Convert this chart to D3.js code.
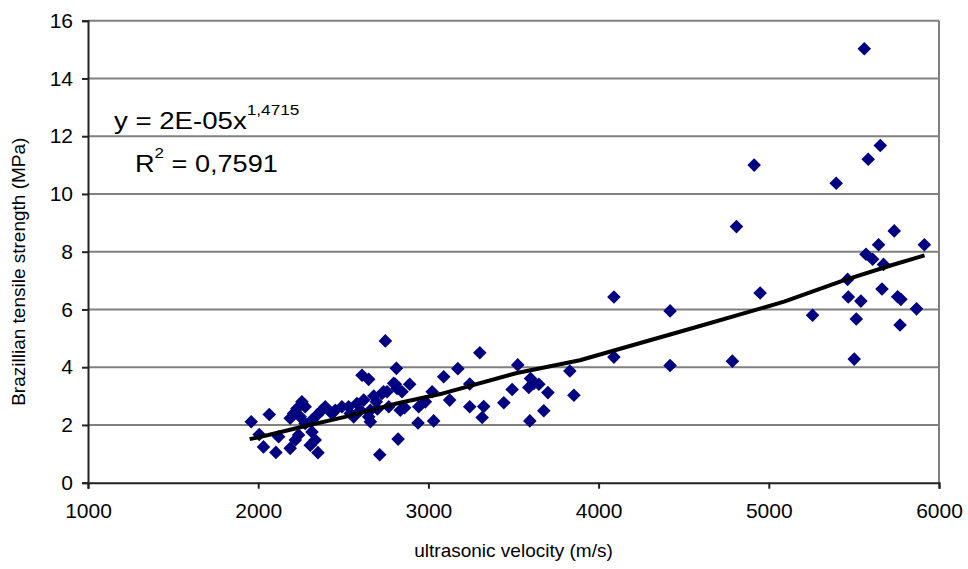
<!DOCTYPE html>
<html>
<head>
<meta charset="utf-8">
<script src="https://cdn.jsdelivr.net/npm/d3@7"></script>
<style>
  body { margin: 0; background: #fff; }
  text { font-family: Arial, "Liberation Sans", sans-serif; }
</style>
</head>
<body>
<div id="chart"></div>
<script>
// measured points (ultrasonic velocity m/s, Brazilian tensile strength MPa)
var velocity = [
  1959, 2065, 2006, 2031, 2104, 2120, 2188, 2208, 2228, 2257, 2276, 2247, 2276, 2237, 2218, 2188,
  2316, 2335, 2306, 2351, 2345, 2374, 2394, 2316, 2433, 2453, 2492,
  2531, 2541, 2561, 2580, 2600, 2620, 2659, 2679, 2694, 2610, 2649, 2737, 2767, 2806, 2812, 2835,
  2845, 2890, 2943, 2982, 2659, 2822, 2714, 2747, 2727, 2757, 2796, 2816, 2649, 2700, 2860,
  2939, 3031, 3022, 3090, 3125, 3173, 3243, 3243, 3302, 3325, 3316, 3443, 3492, 3525, 3590, 3600,
  3620, 3649, 3596, 3678, 3702, 3831, 3855, 4090, 4090, 4420, 4420, 4786, 4810, 4914, 4949,
  5257, 5396, 5463, 5467, 5502, 5514, 5541, 5561, 5571, 5584, 5610, 5645, 5655, 5665, 5674,
  5737, 5757, 5771, 5776, 5868, 5914
];
var strength = [
  2.11, 2.36, 1.67, 1.24, 1.05, 1.59, 2.23, 2.40, 2.57, 2.80, 2.63, 2.28, 2.05, 1.65, 1.48, 1.19,
  1.76, 1.48, 1.30, 1.04, 2.34, 2.51, 2.63, 2.17, 2.40, 2.51, 2.63,
  2.63, 2.40, 2.28, 2.74, 2.51, 2.86, 2.51, 3.00, 2.80, 3.72, 3.58, 3.15, 2.63, 3.41, 3.96, 2.51,
  3.15, 3.41, 2.63, 2.80, 2.11, 1.51, 0.97, 4.91, 3.09, 3.15, 3.44, 3.26, 2.28, 2.55, 2.60,
  2.07, 2.14, 3.15, 3.67, 2.86, 3.95, 3.42, 2.63, 4.50, 2.64, 2.26, 2.77, 3.23, 4.08, 3.30, 3.61,
  3.44, 3.41, 2.14, 2.49, 3.12, 3.87, 3.03, 4.35, 6.43, 5.95, 4.06, 4.21, 8.87, 11.0, 6.57,
  5.80, 10.37, 7.04, 6.43, 4.28, 5.67, 6.29, 15.03, 7.91, 11.2, 7.74, 8.24, 11.68, 6.71, 7.56,
  8.72, 6.44, 5.46, 6.35, 6.02, 8.24
];

// power trendline as drawn in the picture
var trendX = [1950, 2060, 2260, 2510, 2820, 3070, 3520, 3890, 4580, 5090, 5440, 5720, 5915];
var trendY = [1.51, 1.65, 1.94, 2.28, 2.75, 3.07, 3.80, 4.24, 5.40, 6.27, 7.01, 7.53, 7.87];

var xTicks = [1000, 2000, 3000, 4000, 5000, 6000];
var yTicks = [0, 2, 4, 6, 8, 10, 12, 14, 16];

var eqText = "y = 2E-05x";
var eqExp = "1,4715";
var r2Text = " = 0,7591";

var drawChart = function() {
  var width = 968, height = 569;
  var plotLeft = 88, plotRight = 939, plotTop = 20.7, plotBottom = 482.7;

  var svg = d3.select("#chart").append("svg")
    .attr("width", width)
    .attr("height", height);

  var xScale = d3.scaleLinear().domain([1000, 6000]).range([plotLeft, plotRight]);
  var yScale = d3.scaleLinear().domain([0, 16]).range([plotBottom, plotTop]);

  // gridlines
  svg.append("g")
    .selectAll("line")
    .data(yTicks.filter(function(d) { return d > 0; }))
    .enter().append("line")
    .attr("x1", plotLeft).attr("x2", plotRight)
    .attr("y1", function(d) { return yScale(d); })
    .attr("y2", function(d) { return yScale(d); })
    .attr("stroke", "#808080")
    .attr("stroke-width", 2);

  // right border of plot area
  svg.append("line")
    .attr("x1", plotRight).attr("x2", plotRight)
    .attr("y1", plotTop).attr("y2", plotBottom)
    .attr("stroke", "#808080")
    .attr("stroke-width", 2);

  // axes
  var xAxis = d3.axisBottom(xScale).tickValues(xTicks).tickSize(6).tickPadding(14).tickFormat(d3.format("d"));
  var yAxis = d3.axisLeft(yScale).tickValues(yTicks).tickSize(6).tickPadding(9).tickFormat(d3.format("d"));

  var gx = svg.append("g")
    .attr("transform", "translate(0," + plotBottom + ")")
    .call(xAxis);
  var gy = svg.append("g")
    .attr("transform", "translate(" + plotLeft + ",0)")
    .call(yAxis);

  [gx, gy].forEach(function(g) {
    g.select(".domain").attr("stroke", "#222").attr("stroke-width", 2);
    g.selectAll(".tick line").attr("stroke", "#222").attr("stroke-width", 2);
    g.selectAll(".tick text").attr("font-size", 21).attr("fill", "#000");
  });

  // axis titles
  svg.append("text")
    .attr("x", (plotLeft + plotRight) / 2)
    .attr("y", 557)
    .attr("text-anchor", "middle")
    .attr("font-size", 19)
    .text("ultrasonic velocity (m/s)");

  svg.append("text")
    .attr("transform", "translate(25," + ((plotTop + plotBottom) / 2 + 20) + ") rotate(-90)")
    .attr("text-anchor", "middle")
    .attr("font-size", 19)
    .text("Brazillian tensile strength (MPa)");

  // data points
  var pts = velocity.map(function(v, i) { return { x: v, y: strength[i] }; });
  var diamond = "M0,-6.8L6.8,0L0,6.8L-6.8,0Z";

  svg.append("g")
    .selectAll("path")
    .data(pts)
    .enter().append("path")
    .attr("d", diamond)
    .attr("transform", function(d) { return "translate(" + xScale(d.x) + "," + yScale(d.y) + ")"; })
    .attr("fill", "#000080");

  // trendline
  var trend = trendX.map(function(v, i) { return [v, trendY[i]]; });
  svg.append("path")
    .datum(trend)
    .attr("d", d3.line()
      .x(function(d) { return xScale(d[0]); })
      .y(function(d) { return yScale(d[1]); }))
    .attr("fill", "none")
    .attr("stroke", "#000")
    .attr("stroke-width", 4)
    .attr("stroke-linejoin", "round");

  // equation label
  var eq = svg.append("g").attr("transform", "translate(114,129) scale(1.15,1)");
  var t1 = eq.append("text").attr("font-size", 24);
  t1.append("tspan").text(eqText);
  t1.append("tspan").attr("dy", -14).attr("font-size", 15).text(eqExp);

  var r2 = svg.append("g").attr("transform", "translate(135,172) scale(1.13,1)");
  var t2 = r2.append("text").attr("font-size", 24);
  t2.append("tspan").text("R");
  t2.append("tspan").attr("dy", -14).attr("font-size", 15).text("2");
  t2.append("tspan").attr("dy", 14).text(r2Text);
};

drawChart();
</script>
</body>
</html>
